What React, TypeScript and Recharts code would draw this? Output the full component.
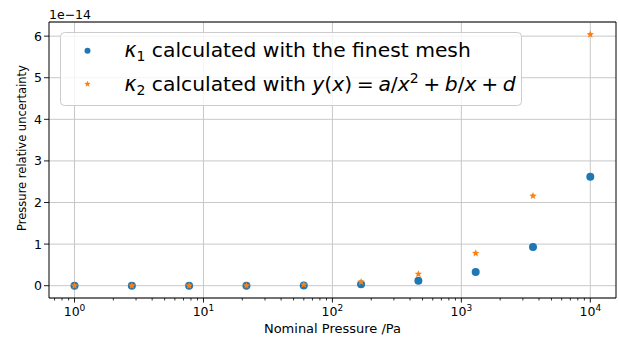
import React from 'react';
import { ScatterChart, Scatter, XAxis, YAxis, CartesianGrid, ReferenceLine, Legend, Label } from 'recharts';

// ---- data ----
const pressures = [1, 2.783, 7.743, 21.54, 59.95, 166.8, 464.2, 1291.5, 3593.8, 10000];
const kappa1 = [0.0, 0.0, 0.0, 0.0, 0.004, 0.035, 0.12, 0.33, 0.93, 2.62];
const kappa2 = [0.0, 0.0, 0.0, 0.002, 0.025, 0.09, 0.28, 0.78, 2.16, 6.04];
const xMajorTicks = [1, 10, 100, 1000, 10000];
const xMinorTicks = [0.7, 0.8, 0.9, 2, 3, 4, 5, 6, 7, 8, 9, 20, 30, 40, 50, 60, 70, 80, 90, 200, 300, 400, 500, 600, 700, 800, 900, 2000, 3000, 4000, 5000, 6000, 7000, 8000, 9000];
const xTickExponents = ['0', '1', '2', '3', '4'];
const yTicks = [0, 1, 2, 3, 4, 5, 6];

// axis limits (matplotlib autoscale with margins)
const X_MIN = 0.634;
const X_MAX = 15824;
const Y_MIN = -0.296;
const Y_MAX = 6.34;

const BLUE = '#1f77b4';
const ORANGE = '#ff7f0e';
const FONT = 'DejaVu Sans';

const data1 = pressures.map((p, i) => ({ x: p, y: kappa1[i] }));
const data2 = pressures.map((p, i) => ({ x: p, y: kappa2[i] }));

function starPoints(cx: number, cy: number, R: number, r: number) {
  const pts: string[] = [];
  for (let i = 0; i < 10; i++) {
    const rad = i % 2 === 0 ? R : r;
    const a = -Math.PI / 2 + (i * Math.PI) / 5;
    pts.push(`${cx + rad * Math.cos(a)},${cy + rad * Math.sin(a)}`);
  }
  return pts.join(' ');
}

const CircleShape = (props: any) => <circle cx={props.cx} cy={props.cy} r={4} fill={BLUE} />;
const StarShape = (props: any) => (
  <polygon points={starPoints(props.cx, props.cy, 3.9, 1.7)} fill={ORANGE} />
);

const XTick = (props: any) => {
  const { x, y, payload } = props;
  const idx = xMajorTicks.indexOf(payload.value);
  if (idx < 0) {
    return <line x1={x} x2={x} y1={y} y2={y + 2.5} stroke="#000" strokeWidth={0.8} />;
  }
  return (
    <g>
      <line x1={x} x2={x} y1={y} y2={y + 4.5} stroke="#000" strokeWidth={0.9} />
      <text x={x} y={y + 18} textAnchor="middle" fontFamily={FONT} fontSize={12.5} fill="#000">
        10
        <tspan fontSize={9} dy={-5}>{xTickExponents[idx]}</tspan>
      </text>
    </g>
  );
};

const OP = 4.6; // mathtext spacing around binary operators

const LegendContent = () => (
  <svg width={463} height={75} style={{ display: 'block' }}>
    <rect x={0.5} y={0.5} width={461} height={73} rx={4} ry={4} fill="#fff" fillOpacity={0.8} stroke="#cccccc" />
    <circle cx={27.5} cy={18.7} r={3} fill={BLUE} />
    <polygon points={starPoints(27.5, 52, 3.3, 1.4)} fill={ORANGE} />
    <text x={64.5} y={25} fontFamily={FONT} fontSize={20.3} fill="#000">
      <tspan fontStyle="italic">κ</tspan>
      <tspan fontSize={14} dy={4}>1</tspan>
      <tspan dy={-4}> calculated with the finest mesh</tspan>
    </text>
    <text x={64.5} y={58.5} fontFamily={FONT} fontSize={20.3} fill="#000">
      <tspan fontStyle="italic">κ</tspan>
      <tspan fontSize={14} dy={4}>2</tspan>
      <tspan dy={-4}> calculated with </tspan>
      <tspan fontStyle="italic">y</tspan>
      <tspan>(</tspan>
      <tspan fontStyle="italic">x</tspan>
      <tspan>)</tspan>
      <tspan dx={OP}>=</tspan>
      <tspan dx={OP} fontStyle="italic">a</tspan>
      <tspan>/</tspan>
      <tspan fontStyle="italic">x</tspan>
      <tspan fontSize={14} dy={-8}>2</tspan>
      <tspan dy={8} dx={OP}>+</tspan>
      <tspan dx={OP} fontStyle="italic">b</tspan>
      <tspan>/</tspan>
      <tspan fontStyle="italic">x</tspan>
      <tspan dx={OP}>+</tspan>
      <tspan dx={OP} fontStyle="italic">d</tspan>
    </text>
  </svg>
);

export default function App() {
  return (
    <div style={{ position: 'absolute', left: 0, top: 0, width: 619, height: 338, background: '#fff' }}>
      <ScatterChart width={619} height={338} margin={{ top: 22, right: 3, bottom: 0, left: 0 }}>
        <CartesianGrid stroke="#c8c8c8" strokeWidth={1} verticalValues={xMajorTicks} />
        <XAxis
          dataKey="x"
          type="number"
          scale="log"
          domain={[X_MIN, X_MAX]}
          allowDataOverflow
          ticks={[...xMajorTicks, ...xMinorTicks]}
          interval={0}
          tickSize={0}
          tickMargin={0}
          tickLine={false}
          axisLine={{ stroke: '#000', strokeWidth: 1 }}
          height={40}
          tick={<XTick />}
        >
          <Label
            content={(p: any) => (
              <text
                x={p.viewBox.x + p.viewBox.width / 2}
                y={p.viewBox.y + 35}
                textAnchor="middle"
                fontFamily={FONT}
                fontSize={13}
                fill="#000"
              >
                Nominal Pressure /Pa
              </text>
            )}
          />
        </XAxis>
        <YAxis
          dataKey="y"
          type="number"
          domain={[Y_MIN, Y_MAX]}
          allowDataOverflow
          ticks={yTicks}
          interval={0}
          width={49}
          tickSize={5}
          tickMargin={2}
          axisLine={{ stroke: '#000', strokeWidth: 1 }}
          tickLine={{ stroke: '#000', strokeWidth: 0.9 }}
          tick={{ fontSize: 12.5, fill: '#000', fontFamily: FONT }}
        >
          <Label
            content={(p: any) => (
              <text
                x={p.viewBox.x + 26}
                y={p.viewBox.y + p.viewBox.height / 2 - 12}
                transform={`rotate(-90, ${p.viewBox.x + 26}, ${p.viewBox.y + p.viewBox.height / 2 - 12})`}
                textAnchor="middle"
                fontFamily={FONT}
                fontSize={11.5}
                fill="#000"
              >
                Pressure relative uncertainty
              </text>
            )}
          />
          <Label
            content={(p: any) => (
              <text x={p.viewBox.x + p.viewBox.width} y={p.viewBox.y - 3} textAnchor="start" fontFamily={FONT} fontSize={12.5} fill="#000">
                1e−14
              </text>
            )}
          />
        </YAxis>
        <ReferenceLine y={Y_MAX} stroke="#000" strokeWidth={1} />
        <ReferenceLine x={X_MAX} stroke="#000" strokeWidth={1} />
        <Scatter data={data1} shape={CircleShape} isAnimationActive={false} name="k1" />
        <Scatter data={data2} shape={StarShape} isAnimationActive={false} name="k2" />
        <Legend
          layout="vertical"
          align="center"
          verticalAlign="middle"
          wrapperStyle={{ left: 60, top: 32, width: 463, height: 75 }}
          content={<LegendContent />}
        />
      </ScatterChart>
    </div>
  );
}
